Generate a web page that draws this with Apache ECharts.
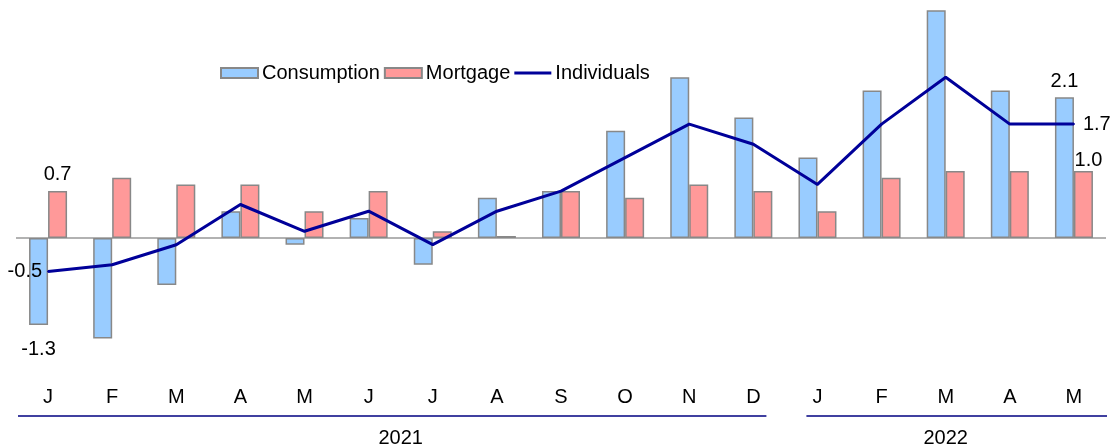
<!DOCTYPE html>
<html>
<head>
<meta charset="utf-8">
<script src="https://cdn.jsdelivr.net/npm/echarts@6/dist/echarts.min.js"></script>
<style>
  html, body { margin: 0; padding: 0; background: #fff; }
  #chart { width: 1110px; height: 447px; }
</style>
</head>
<body>
<div id="chart"></div>
<script>
// Months Jan 2021 - May 2022
const months = ['J', 'F', 'M', 'A', 'M', 'J', 'J', 'A', 'S', 'O', 'N', 'D', 'J', 'F', 'M', 'A', 'M'];
const years = [
    { name: '2021', from: 0, to: 11 },
    { name: '2022', from: 12, to: 16 }
];
const consumption = [-1.3, -1.5, -0.7, 0.4, -0.1, 0.3, -0.4, 0.6, 0.7, 1.6, 2.4, 1.8, 1.2, 2.2, 3.4, 2.2, 2.1];
const mortgage = [0.7, 0.9, 0.8, 0.8, 0.4, 0.7, 0.1, 0.03, 0.7, 0.6, 0.8, 0.7, 0.4, 0.9, 1.0, 1.0, 1.0];
const individuals = [-0.5, -0.4, -0.1, 0.5, 0.1, 0.4, -0.1, 0.4, 0.7, 1.2, 1.7, 1.4, 0.8, 1.7, 2.4, 1.7, 1.7];

const font = 'Liberation Sans, Arial, sans-serif';
const last = months.length - 1;

// show label only for first / last points, like the original
function labelAt(indexes, position, offset) {
    return function(arr) {
        return arr.map(function(v, i) {
            const k = indexes.indexOf(i);
            if (k < 0) return v;
            return {
                value: v,
                label: {
                    show: true,
                    position: position[k],
                    offset: offset[k],
                    formatter: function(p) { return p.value.toFixed(1); }
                }
            };
        });
    };
}

const chartEl = document.getElementById('chart');
const chart = echarts.init(chartEl);

const option = {
    animation: false,
    textStyle: { fontFamily: font },
    legend: {
        left: 220,
        top: 63,
        padding: 0,
        itemWidth: 37,
        itemHeight: 10,
        itemGap: 4,
        textStyle: { fontSize: 20, color: '#000', fontFamily: font, padding: [0, 0, 0, -1] },
        data: [
            { name: 'Consumption', icon: 'rect' },
            { name: 'Mortgage', icon: 'rect' },
            { name: 'Individuals', icon: 'path://M0,4 L40,4 L40,7 L0,7 Z' }
        ]
    },
    grid: {
        left: 16,
        right: 4,
        top: 3.5,
        bottom: 75
    },
    xAxis: {
        type: 'category',
        data: months,
        axisLine: { show: false },
        axisTick: { show: false },
        axisLabel: { fontSize: 20, color: '#000', margin: 15, fontFamily: font }
    },
    yAxis: {
        type: 'value',
        min: -2,
        max: 3.5,
        show: false
    },
    series: [
        {
            name: 'Consumption',
            type: 'bar',
            data: labelAt([0, last], ['bottom', 'top'], [[0, 9], [0, -1]])(consumption),
            barWidth: 19,
            barGap: '0%',
            itemStyle: { color: '#99ccff', borderColor: '#888', borderWidth: 1.5 },
            label: { fontSize: 20, color: '#000', fontFamily: font },
            markLine: {
                silent: true,
                symbol: 'none',
                label: { show: false },
                lineStyle: { color: '#999', width: 1.5, type: 'solid' },
                data: [{ yAxis: 0 }],
                z: 1
            }
        },
        {
            name: 'Mortgage',
            type: 'bar',
            data: labelAt([0, last], ['top', 'top'], [[0, -2], [5, 4]])(mortgage),
            barWidth: 19,
            barGap: '0%',
            itemStyle: { color: '#ff9999', borderColor: '#888', borderWidth: 1.5 },
            label: { fontSize: 20, color: '#000', fontFamily: font }
        },
        {
            name: 'Individuals',
            type: 'line',
            data: labelAt([0, last], ['left', 'right'], [[0, 0], [3, 0]])(individuals),
            symbol: 'circle',
            symbolSize: 2,
            showAllSymbol: true,
            lineStyle: { color: '#000099', width: 3 },
            itemStyle: { color: '#000099' },
            label: { fontSize: 20, color: '#000', fontFamily: font },
            z: 5
        }
    ]
};
chart.setOption(option);

// Year brackets under the month labels
function drawYears() {
    const step = chart.convertToPixel({ xAxisIndex: 0 }, 1) - chart.convertToPixel({ xAxisIndex: 0 }, 0);
    const graphics = [];
    years.forEach(function(y, k) {
        const x0 = chart.convertToPixel({ xAxisIndex: 0 }, y.from) - step / 2;
        const x1 = chart.convertToPixel({ xAxisIndex: 0 }, y.to) + step / 2;
        const startPad = k === 0 ? 2 : 21;
        const endPad = k === 0 ? -19 : 1;
        graphics.push({
            type: 'line',
            shape: { x1: x0 + startPad, y1: 416, x2: x1 + endPad, y2: 416 },
            style: { stroke: '#000080', lineWidth: 1.5 },
            silent: true
        });
        graphics.push({
            type: 'text',
            x: (x0 + x1) / 2,
            y: 438,
            style: {
                text: y.name,
                fontSize: 20,
                fontFamily: font,
                fill: '#000',
                align: 'center',
                verticalAlign: 'middle'
            },
            silent: true
        });
    });
    chart.setOption({ graphic: graphics });
}
drawYears();

window.addEventListener('resize', function() {
    chart.resize();
    drawYears();
});
</script>
</body>
</html>
